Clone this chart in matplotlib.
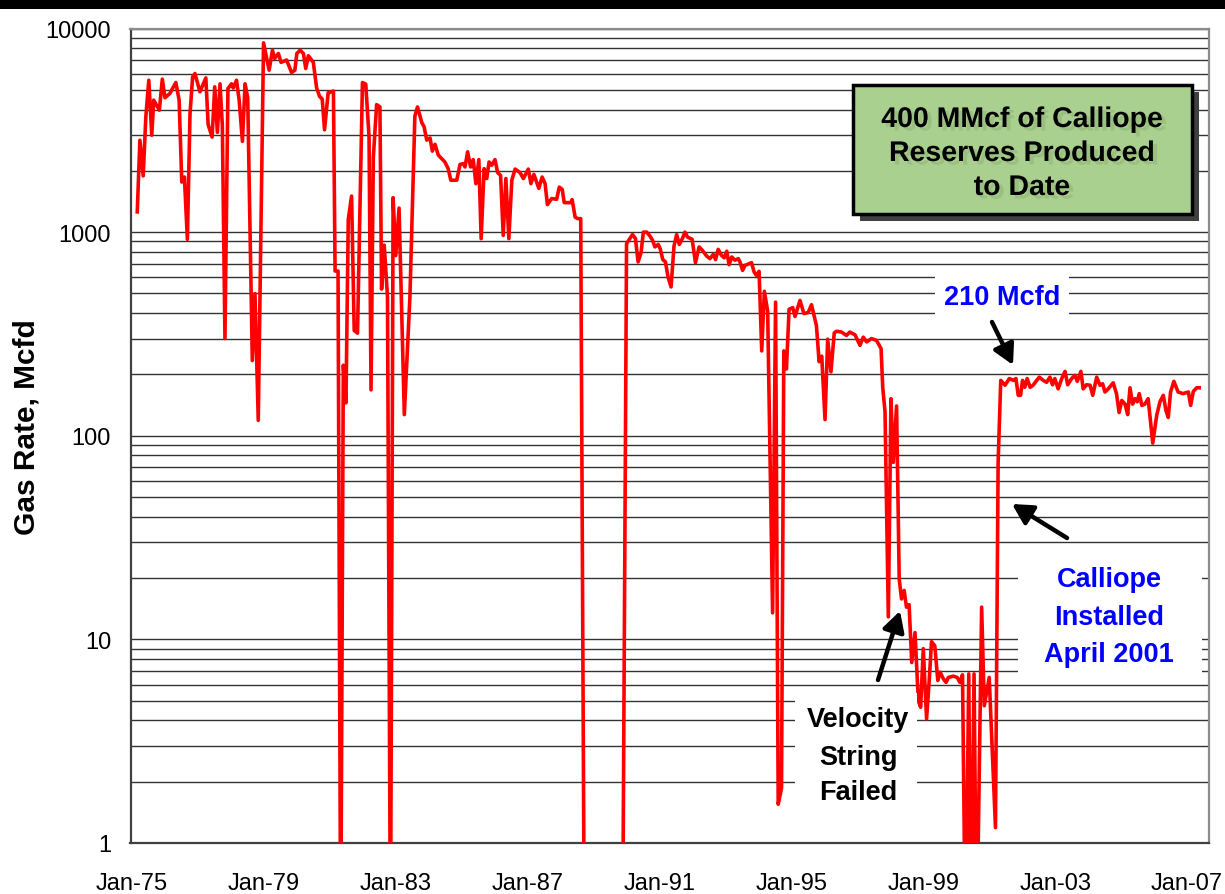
import numpy as np
import matplotlib
matplotlib.use("Agg")
import matplotlib.pyplot as plt
from matplotlib.patches import Rectangle, FancyArrowPatch
from matplotlib import patheffects
from matplotlib.ticker import FixedLocator, FixedFormatter, LogLocator, NullFormatter

plt.rcParams['font.family'] = ['Liberation Sans', 'DejaVu Sans']

# ---------------- data (decimal year, gas rate in Mcfd; 0 = shut-in / below axis) ----
years = [
    1975.16, 1975.24, 1975.34, 1975.42, 1975.51, 1975.60, 1975.66, 1975.83, 1975.92, 1976.00,
    1976.15, 1976.33, 1976.43, 1976.51, 1976.59, 1976.68, 1976.76, 1976.84, 1976.91, 1977.06,
    1977.24, 1977.31, 1977.43, 1977.51, 1977.59, 1977.67, 1977.74, 1977.82, 1977.91, 1978.02,
    1978.07, 1978.17, 1978.25, 1978.35, 1978.43, 1978.51, 1978.65, 1978.73, 1978.83, 1978.99,
    1979.16, 1979.26, 1979.33, 1979.44, 1979.52, 1979.69, 1979.84, 1979.94, 1980.00, 1980.10,
    1980.20, 1980.27, 1980.35, 1980.50, 1980.60, 1980.69, 1980.77, 1980.84, 1980.95, 1981.00,
    1981.11, 1981.16, 1981.25, 1981.33, 1981.41, 1981.49, 1981.56, 1981.66, 1981.74, 1981.84,
    1981.99, 1982.09, 1982.19, 1982.25, 1982.32, 1982.42, 1982.52, 1982.57, 1982.65, 1982.75,
    1982.84, 1982.92, 1983.00, 1983.10, 1983.26, 1983.43, 1983.58, 1983.66, 1983.79, 1983.86,
    1983.94, 1984.04, 1984.11, 1984.19, 1984.29, 1984.49, 1984.59, 1984.67, 1984.85, 1984.95,
    1985.05, 1985.10, 1985.18, 1985.27, 1985.35, 1985.43, 1985.52, 1985.59, 1985.68, 1985.76,
    1985.83, 1985.91, 1986.01, 1986.09, 1986.18, 1986.26, 1986.34, 1986.43, 1986.52, 1986.62,
    1986.77, 1986.87, 1987.02, 1987.10, 1987.19, 1987.34, 1987.44, 1987.53, 1987.60, 1987.73,
    1987.88, 1987.96, 1988.05, 1988.11, 1988.31, 1988.35, 1988.44, 1988.52, 1988.61, 1988.72,
    1989.88, 1990.00, 1990.18, 1990.27, 1990.35, 1990.44, 1990.51, 1990.61, 1990.71, 1990.79,
    1990.86, 1990.96, 1991.02, 1991.10, 1991.18, 1991.26, 1991.35, 1991.44, 1991.52, 1991.60,
    1991.70, 1991.77, 1991.85, 1991.99, 1992.09, 1992.20, 1992.30, 1992.43, 1992.53, 1992.63,
    1992.70, 1992.78, 1992.88, 1992.96, 1993.04, 1993.11, 1993.19, 1993.29, 1993.39, 1993.44,
    1993.52, 1993.59, 1993.72, 1993.79, 1993.87, 1993.94, 1994.02, 1994.10, 1994.18, 1994.28,
    1994.43, 1994.52, 1994.60, 1994.70, 1994.77, 1994.85, 1994.93, 1995.04, 1995.11, 1995.26,
    1995.38, 1995.51, 1995.61, 1995.76, 1995.84, 1995.92, 1996.02, 1996.10, 1996.20, 1996.30,
    1996.37, 1996.52, 1996.67, 1996.77, 1996.93, 1997.08, 1997.18, 1997.28, 1997.43, 1997.58,
    1997.72, 1997.77, 1997.84, 1997.94, 1998.02, 1998.09, 1998.19, 1998.27, 1998.34, 1998.42,
    1998.49, 1998.57, 1998.65, 1998.75, 1998.85, 1998.92, 1999.00, 1999.10, 1999.18, 1999.25,
    1999.35, 1999.44, 1999.51, 1999.61, 1999.69, 1999.76, 1999.91, 2000.03, 2000.11, 2000.19,
    2000.28, 2000.38, 2000.44, 2000.54, 2000.62, 2000.77, 2000.85, 2001.00, 2001.19, 2001.27,
    2001.35, 2001.48, 2001.61, 2001.73, 2001.81, 2001.88, 2001.95, 2002.01, 2002.08, 2002.15,
    2002.24, 2002.33, 2002.44, 2002.52, 2002.64, 2002.74, 2002.84, 2002.92, 2002.99, 2003.09,
    2003.20, 2003.30, 2003.38, 2003.50, 2003.60, 2003.67, 2003.78, 2003.85, 2003.95, 2004.06,
    2004.14, 2004.26, 2004.36, 2004.44, 2004.51, 2004.61, 2004.76, 2004.86, 2004.94, 2005.02,
    2005.12, 2005.20, 2005.27, 2005.35, 2005.42, 2005.49, 2005.55, 2005.63, 2005.72, 2005.82,
    2005.96, 2006.08, 2006.18, 2006.28, 2006.36, 2006.43, 2006.50, 2006.60, 2006.73, 2006.88,
    2007.04, 2007.11, 2007.19, 2007.29, 2007.37,
]
gas_rate = [
    1257, 2826, 1888, 3680, 5570, 2990, 4450, 3970, 5640, 4570,
    4800, 5430, 4450, 1762, 1864, 922, 3820, 5790, 6010, 4890,
    5720, 3375, 2930, 5170, 3090, 5350, 3350, 300, 5070, 5350,
    5100, 5570, 4450, 2790, 5350, 4570, 234, 499, 119, 8500,
    6240, 7820, 7130, 7540, 6820, 7000, 6080, 6240, 7540, 7820,
    7540, 6360, 7350, 6820, 5110, 4640, 4500, 3180, 4840, 4860,
    4930, 644, 644, 0, 222, 145, 1154, 1503, 329, 319,
    5430, 5330, 2940, 168, 2330, 4230, 4120, 525, 863, 481,
    0, 1476, 767, 1313, 127, 481, 3715, 4120, 3450, 3290,
    2830, 2900, 2500, 2700, 2390, 2210, 2050, 1798, 1798, 2150,
    2170, 2090, 2480, 2090, 2270, 1730, 2270, 929, 2050, 1833,
    2210, 2130, 2270, 1960, 1900, 964, 1833, 929, 1798, 2040,
    1960, 1833, 2040, 1730, 1920, 1640, 1864, 1730, 1365, 1462,
    1450, 1664, 1620, 1396, 1396, 1445, 1185, 1165, 1165, 0,
    0, 878, 973, 930, 714, 793, 1000, 1000, 957, 912,
    846, 870, 829, 733, 714, 601, 538, 855, 973, 870,
    935, 1000, 945, 922, 708, 846, 814, 763, 741, 777,
    733, 823, 769, 748, 806, 692, 755, 728, 741, 714,
    649, 686, 700, 708, 637, 613, 642, 261, 512, 409,
    13.5, 453, 1.55, 1.86, 261, 213, 418, 426, 385, 462,
    398, 403, 440, 347, 231, 246, 120, 298, 206, 320,
    326, 323, 311, 323, 313, 278, 305, 289, 300, 294,
    268, 173, 131, 12.9, 152, 74, 140, 19.8, 15.8, 17.4,
    14.4, 14.8, 7.7, 10.8, 5.0, 4.64, 9.0, 4.07, 6.28, 9.75,
    9.3, 6.28, 6.9, 6.4, 6.15, 6.5, 6.6, 6.5, 6.15, 6.7,
    0, 6.77, 0, 6.77, 0, 14.4, 4.72, 6.5, 1.19, 74,
    187, 177, 191, 187, 191, 158, 158, 187, 173, 191,
    173, 177, 187, 194, 187, 183, 194, 178, 191, 170,
    191, 207, 178, 191, 198, 185, 207, 170, 178, 177,
    158, 194, 177, 180, 164, 170, 182, 161, 130, 149,
    143, 127, 172, 143, 152, 147, 161, 141, 143, 152,
    92, 126, 147, 158, 133, 123, 164, 185, 164, 161,
    164, 141, 165, 172, 172,
]

x_tick_years = [1975, 1979, 1983, 1987, 1991, 1995, 1999, 2003, 2007]
x_tick_labels = ['Jan-75', 'Jan-79', 'Jan-83', 'Jan-87', 'Jan-91',
                 'Jan-95', 'Jan-99', 'Jan-03', 'Jan-07']
y_ticks = [1, 10, 100, 1000, 10000]
y_tick_labels = ['1', '10', '100', '1000', '10000']

# ---------------- figure ----------------
W, H = 1225, 895
fig = plt.figure(figsize=(W / 100, H / 100), dpi=100)
fig.patch.set_facecolor('white')


def fx(x):
    return x / W


def fy(y):
    return 1 - y / H


ax = fig.add_axes([fx(130.5), fy(844), fx(1209) - fx(130.5), fy(29.5) - fy(844)])

plot_vals = np.where(np.array(gas_rate) > 0, np.array(gas_rate, dtype=float), 0.3)
ax.plot(years, plot_vals, color='#ff0000', lw=2.6, solid_joinstyle='round', zorder=3)

ax.set_yscale('log')
ax.set_ylim(1, 10000)
ax.set_xlim(1974.955, 2007.666)

ax.yaxis.set_major_locator(FixedLocator(y_ticks))
ax.yaxis.set_major_formatter(FixedFormatter(y_tick_labels))
ax.yaxis.set_minor_locator(LogLocator(base=10, subs=[2, 3, 4, 5, 6, 7, 8, 9]))
ax.yaxis.set_minor_formatter(NullFormatter())
ax.xaxis.set_major_locator(FixedLocator(x_tick_years))
ax.xaxis.set_major_formatter(FixedFormatter(x_tick_labels))

ax.grid(which='both', axis='y', color='#333333', lw=1.0, zorder=1)
ax.grid(False, axis='x')
ax.set_axisbelow(True)
ax.tick_params(which='both', length=0)
ax.tick_params(axis='x', labelsize=17, pad=21, colors='black')
ax.tick_params(axis='y', labelsize=17, pad=14, colors='black')

for s in ['left', 'bottom']:
    ax.spines[s].set_color('#404040')
    ax.spines[s].set_linewidth(1.6)
for s in ['top', 'right']:
    ax.spines[s].set_color('#8c8c8c')
    ax.spines[s].set_linewidth(1.6)

ax.set_ylabel('Gas Rate, Mcfd', fontsize=21.5, fontweight='bold')
ax.yaxis.set_label_coords(-0.083, 0.512)

# black band at top
fig.add_artist(Rectangle((0, fy(10)), 1, 10 / H, transform=fig.transFigure,
                         facecolor='black', edgecolor='none', zorder=5))


def rect(x0, y0, x1, y1, **kw):
    return Rectangle((fx(x0), fy(y1)), fx(x1) - fx(x0), fy(y0) - fy(y1),
                     transform=fig.transFigure, **kw)


# white label backgrounds (cover the gridlines)
for (x0, y0, x1, y1) in [(935, 268, 1069, 332), (1018, 553, 1202, 683), (795, 694, 917, 815)]:
    fig.add_artist(rect(x0, y0, x1, y1, facecolor='white', edgecolor='none', zorder=2))

# green box with shadow
fig.add_artist(rect(860, 93, 1199, 222, facecolor='#404040', edgecolor='none', zorder=3))
fig.add_artist(rect(853, 86, 1192, 215, facecolor='#a9d08e', edgecolor='black', lw=2.5, zorder=4))
shadow = [patheffects.withSimplePatchShadow(offset=(3.0, -2.5), shadow_rgbFace='#9abf80', alpha=1.0)]
for t, b in zip(['400 MMcf of Calliope', 'Reserves Produced', 'to Date'], [128, 162, 196]):
    fig.text(fx(1022), fy(b), t, ha='center', va='baseline', fontsize=20.5,
             fontweight='bold', color='black', zorder=6, path_effects=shadow)

# annotation texts
fig.text(fx(1002), fy(305), '210 Mcfd', ha='center', va='baseline', fontsize=19.5,
         fontweight='bold', color='#0000ff', zorder=6)
for t, b in zip(['Calliope', 'Installed', 'April 2001'], [587, 625, 662]):
    fig.text(fx(1109), fy(b), t, ha='center', va='baseline', fontsize=19.5,
             fontweight='bold', color='#0000ff', zorder=6)
for t, b in zip(['Velocity', 'String', 'Failed'], [727, 765, 800]):
    fig.text(fx(858), fy(b), t, ha='center', va='baseline', fontsize=19.5,
             fontweight='bold', color='black', zorder=6)

# arrows (tail -> tip), in figure pixel coordinates
arrows = [((992, 323), (1013, 366)), ((1067, 539), (1012, 505)), ((878, 681), (900, 612))]
for tail, tip in arrows:
    fig.add_artist(FancyArrowPatch(
        (fx(tail[0]), fy(tail[1])), (fx(tip[0]), fy(tip[1])),
        transform=fig.transFigure, arrowstyle='-|>,head_length=0.55,head_width=0.3',
        mutation_scale=22, lw=3.2, color='black', shrinkA=0, shrinkB=0, zorder=6))

fig.savefig('out.png', dpi=100)
